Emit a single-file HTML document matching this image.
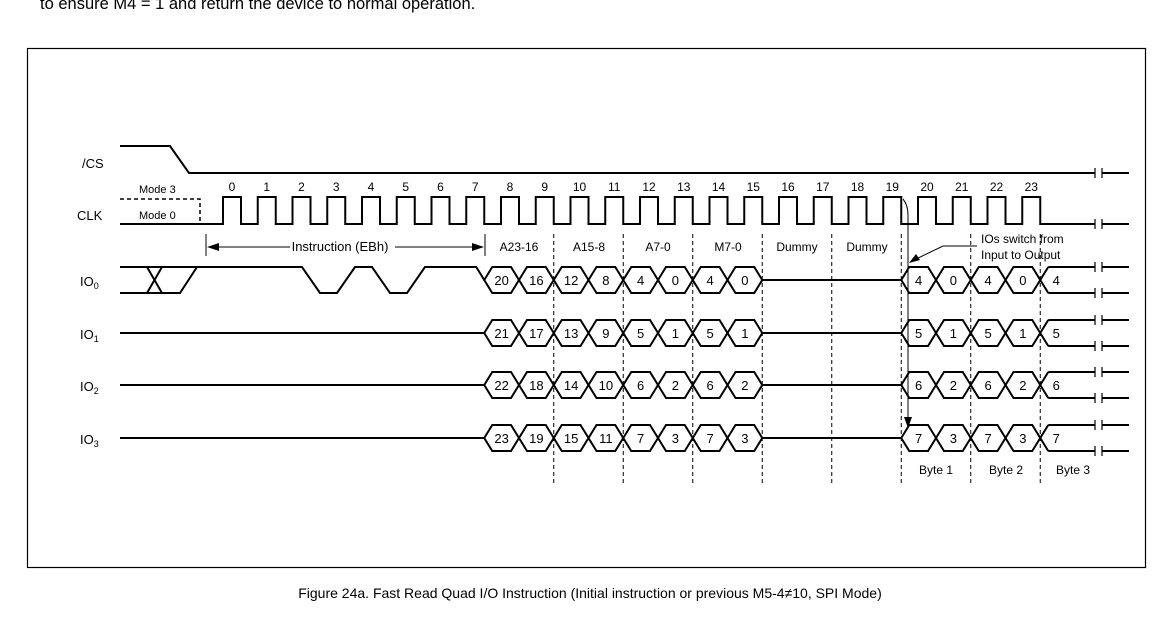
<!DOCTYPE html>
<html><head><meta charset="utf-8"><style>
body{margin:0;background:#fff;width:1172px;height:618px;overflow:hidden;font-family:"Liberation Sans",sans-serif}
</style></head><body>
<svg id="s" width="1172" height="618" xmlns="http://www.w3.org/2000/svg" font-family="Liberation Sans, sans-serif">
<text x="40" y="9" font-size="16.5" fill="#000">to ensure M4 = 1 and return the device to normal operation.</text>
<rect x="27.5" y="48.5" width="1118" height="519" fill="none" stroke="#000" stroke-width="1.2"/>
<text x="590" y="598" font-size="14" text-anchor="middle">Figure 24a. Fast Read Quad I/O Instruction (Initial instruction or previous M5-4≠10, SPI Mode)</text>
<text x="82" y="168" font-size="13">/CS</text>
<text x="77" y="220" font-size="13">CLK</text>
<text x="80" y="286" font-size="13">IO<tspan font-size="9" dy="3">0</tspan></text>
<text x="80" y="339" font-size="13">IO<tspan font-size="9" dy="3">1</tspan></text>
<text x="80" y="391" font-size="13">IO<tspan font-size="9" dy="3">2</tspan></text>
<text x="80" y="444" font-size="13">IO<tspan font-size="9" dy="3">3</tspan></text>
<text x="139" y="193" font-size="11">Mode 3</text>
<text x="139" y="219" font-size="11">Mode 0</text>
<text x="340" y="251" font-size="13" text-anchor="middle">Instruction (EBh)</text>
<text x="519" y="251" font-size="12" text-anchor="middle">A23-16</text>
<text x="589" y="251" font-size="12" text-anchor="middle">A15-8</text>
<text x="658" y="251" font-size="12" text-anchor="middle">A7-0</text>
<text x="728" y="251" font-size="12" text-anchor="middle">M7-0</text>
<text x="797" y="251" font-size="12" text-anchor="middle">Dummy</text>
<text x="867" y="251" font-size="12" text-anchor="middle">Dummy</text>
<text x="981" y="243" font-size="12">IOs switch from</text>
<text x="981" y="259" font-size="12">Input to Output</text>
<text x="936" y="474" font-size="12" text-anchor="middle">Byte 1</text>
<text x="1006" y="474" font-size="12" text-anchor="middle">Byte 2</text>
<text x="1073" y="474" font-size="12" text-anchor="middle">Byte 3</text>
<g id="g" fill="none" stroke="#000" stroke-width="2"></g>
</svg>
<script>
var g=document.getElementById('g'),s=document.getElementById('s');
function P(d,w,dash){var e=document.createElementNS('http://www.w3.org/2000/svg','path');e.setAttribute('d',d);if(w)e.setAttribute('stroke-width',w);if(dash)e.setAttribute('stroke-dasharray',dash);g.appendChild(e);}
function T(x,y,t,sz){var e=document.createElementNS('http://www.w3.org/2000/svg','text');e.setAttribute('x',x);e.setAttribute('y',y);e.setAttribute('font-size',sz||13);e.setAttribute('text-anchor','middle');e.textContent=t;s.appendChild(e);}
function f(k){return 241+34.75*k;}
function brk(y){P('M1090 '+y+'H1095M1102 '+y+'H1129');P('M1095 '+(y-5)+'V'+(y+5)+'M1102 '+(y-5)+'V'+(y+5),1.2);}
P('M120 146H170L189 173H1095');brk(173);
var d='M120 224H223';
for(var k=0;k<24;k++){var r=223+34.75*k;d+='H'+r+'V197H'+(r+18)+'V224';T(r+9,191,String(k),12);}
d+='H1095';P(d);brk(224);
P('M120 199H200V224',1.5,'4,3');
P('M206 234V256M485 234V256',1);
P('M215 247H290M395 247H475',1);
var ah=document.createElementNS('http://www.w3.org/2000/svg','path');ah.setAttribute('d','M207 247L219 243V251ZM484 247L472 243V251Z');s.appendChild(ah);
[9,11,13,15,17,19,21,23].forEach(function(k){P('M'+f(k)+' 234V486',1,'4,3');});
var mids=[280,333,385,438];
var inl=[[20,16,12,8,4,0,4,0],[21,17,13,9,5,1,5,1],[22,18,14,10,6,2,6,2],[23,19,15,11,7,3,7,3]];
var outl=[[4,0,4,0,4],[5,1,5,1,5],[6,2,6,2,6],[7,3,7,3,7]];
mids.forEach(function(m,ri){
 var t=m-13,b=m+13;
 if(ri==0){
  P('M120 '+t+'H195M120 '+b+'H180L197 '+t+'M147 '+t+'L162 '+b+'M147 '+b+'L162 '+t);
  P('M195 '+t+'H302L320 '+b+'H337L355 '+t+'H372L390 '+b+'H407L425 '+t+'H'+(f(7)-8)+'L'+f(7)+' '+m);
 } else P('M120 '+m+'H'+f(7));
 for(var i=0;i<8;i++){var a=f(7+i),c=f(8+i);
  P('M'+a+' '+m+'L'+(a+8)+' '+t+'H'+(c-8)+'L'+c+' '+m+'L'+(c-8)+' '+b+'H'+(a+8)+'Z');T((a+c)/2,m+5,String(inl[ri][i]));}
 P('M'+f(15)+' '+m+'H'+f(19));
 for(var i=0;i<4;i++){var a=f(19+i),c=f(20+i);
  P('M'+a+' '+m+'L'+(a+8)+' '+t+'H'+(c-8)+'L'+c+' '+m+'L'+(c-8)+' '+b+'H'+(a+8)+'Z');T((a+c)/2,m+5,String(outl[ri][i]));}
 var a=f(23);P('M'+(a+8)+' '+t+'L'+a+' '+m+'L'+(a+8)+' '+b+'M'+(a+8)+' '+t+'H1095M'+(a+8)+' '+b+'H1095');
 T(a+16,m+5,String(outl[ri][4]));
 brk(t);brk(b);
});
P('M903 199Q908 205 908 215V418',1);
var a2=document.createElementNS('http://www.w3.org/2000/svg','path');a2.setAttribute('d','M904 417L912 417L908 428ZM909 263L916 254L920 260Z');s.appendChild(a2);
P('M977 246H943L914 260',1);
</script>
</body></html>
